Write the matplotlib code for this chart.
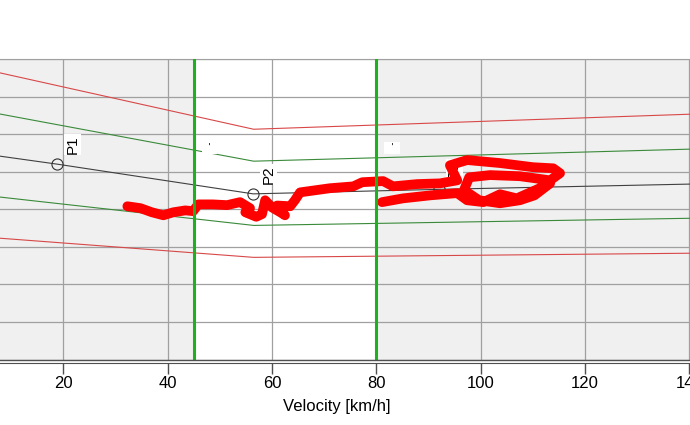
import matplotlib.pyplot as plt

plt.rcParams['font.family'] = ['Liberation Sans', 'DejaVu Sans']

# limit curves (velocity in km/h, y in grid units)
line_v = [5, 56.5, 140]
upper_red = [7.72, 6.13, 6.53]
upper_green = [6.61, 5.28, 5.60]
lower_green = [4.37, 3.57, 3.76]
lower_red = [3.26, 2.72, 2.83]

# centre curve through the P points
center_v = [5, 18.9, 56.4, 92.0, 140]
center_y = [5.47, 5.20, 4.41, 4.53, 4.67]

points_v = [18.9, 56.4, 92.0]
points_y = [5.20, 4.41, 4.53]
points_lbl = ["P1", "P2", "P3"]

band_lo, band_hi = 45, 80
small_lbl_v = [48.0, 83.0]
small_lbl_y = [5.63, 5.63]

# measured trace
trace_v = [32.3, 34.8, 37.0, 39.2, 41.1, 43.4, 44.9, 45.9, 48.7, 51.4, 53.9,
           55.8, 54.9, 57.0, 58.1, 58.7, 60.0, 61.6, 62.5, 61.0, 63.5, 64.4,
           65.4, 71.1, 75.6, 77.3, 81.3, 83.2, 87.8, 92.2, 95.5, 94.1, 97.4,
           103.7, 110.0, 113.9, 115.2, 113.3, 107.5, 101.8, 97.8, 96.8, 99.7,
           103.7, 107.5, 110.3, 113.3, 110.5, 106.9, 103.7, 100.5, 97.4, 95.5,
           90.3, 85.1, 81.1]
trace_y = [4.08, 4.03, 3.92, 3.84, 3.92, 3.97, 3.95, 4.13, 4.13, 4.11, 4.19,
           4.03, 3.92, 3.80, 3.87, 4.24, 4.05, 3.92, 3.84, 4.10, 4.08, 4.24,
           4.45, 4.56, 4.61, 4.72, 4.75, 4.61, 4.67, 4.69, 4.77, 5.17, 5.31,
           5.23, 5.12, 5.09, 4.96, 4.77, 4.88, 4.91, 4.85, 4.51, 4.24,
           4.16, 4.24, 4.37, 4.69, 4.51, 4.29, 4.40, 4.19, 4.24, 4.43,
           4.37, 4.29, 4.19]

fig = plt.figure(figsize=(6.9, 4.25), dpi=100)
ax = fig.add_axes([0.0, 0.154, 1.0, 0.7072])
ax.set_facecolor("#f0f0f0")
ax.axvspan(band_lo, band_hi, color="white", zorder=0)

ax.plot(line_v, upper_red, color="#d84848", lw=0.8, zorder=2)
ax.plot(line_v, lower_red, color="#d84848", lw=0.8, zorder=2)
ax.plot(line_v, upper_green, color="#3a8a3a", lw=0.8, zorder=2)
ax.plot(line_v, lower_green, color="#3a8a3a", lw=0.8, zorder=2)
ax.plot(center_v, center_y, color="#404040", lw=0.8, zorder=2)

ax.plot(points_v, points_y, "o", ms=8, mfc="none", mec="#303030", mew=0.8, zorder=3)
for v, y, lbl in zip(points_v, points_y, points_lbl):
    ax.annotate(lbl, (v, y), xytext=(11, 14), textcoords="offset points",
                rotation=90, ha="center", va="center", fontsize=11, zorder=3,
                bbox=dict(facecolor="white", edgecolor="none", pad=1))

for v, y in zip(small_lbl_v, small_lbl_y):
    ax.text(v, y, "  '  ", fontsize=7, ha="center", va="center", zorder=3,
            bbox=dict(facecolor="white", edgecolor="none", pad=1))

ax.plot(trace_v, trace_y, color="#ff0000", lw=7, solid_capstyle="round",
        solid_joinstyle="round", zorder=4)

ax.axvline(band_lo, color="#1fb01f", lw=2.2, zorder=5)
ax.axvline(band_hi, color="#1fb01f", lw=2.2, zorder=5)

ax.set_xlim(7.9, 140.1)
ax.set_ylim(0, 8)
ax.set_xticks([20, 40, 60, 80, 100, 120, 140])
ax.set_yticks(range(9))
ax.grid(True, color="#a0a0a0", lw=0.9)
ax.set_axisbelow(True)

ax.axhline(0, color="#505050", lw=1, zorder=6, clip_on=False)
ax.spines["left"].set_visible(False)
ax.spines["right"].set_visible(False)
ax.spines["top"].set_color("#a0a0a0")
ax.spines["bottom"].set_position(("outward", 2.2))
ax.spines["bottom"].set_color("#505050")
ax.tick_params(axis="y", length=0, labelleft=False)
ax.tick_params(axis="x", length=8, width=1, color="#505050", pad=2, labelsize=12)

ax.set_xlabel("Velocity [km/h]", fontsize=12)
ax.xaxis.label.set_va("center")
ax.xaxis.set_label_coords(0.488, -0.155)

plt.savefig("out.png", dpi=100)
